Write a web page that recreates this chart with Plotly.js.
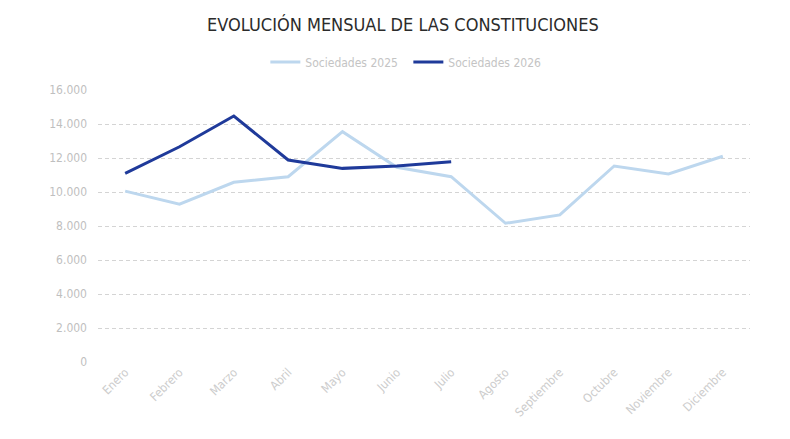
<!DOCTYPE html>
<html>
<head>
<meta charset="utf-8">
<script src="https://cdn.plot.ly/plotly-3.0.1.min.js"></script>
<style>html,body{margin:0;padding:0;background:#fff;}#chart{width:790px;height:439px;}</style>
</head>
<body>
<div id="chart"></div>
<script>
const months = ["Enero","Febrero","Marzo","Abril","Mayo","Junio","Julio","Agosto","Septiembre","Octubre","Noviembre","Diciembre"];
const soc2025 = [10050, 9280, 10570, 10900, 13550, 11450, 10900, 8160, 8650, 11530, 11060, 12100];
const soc2026 = [11100, 12660, 14470, 11880, 11390, 11530, 11780];
const yTicks = [0, 2000, 4000, 6000, 8000, 10000, 12000, 14000, 16000];

const traces = [
  {x: months, y: soc2025, name: "Sociedades 2025", type: "scatter", mode: "lines",
   line: {color: "#bdd7ee", width: 3}},
  {x: months.slice(0, soc2026.length), y: soc2026, name: "Sociedades 2026", type: "scatter", mode: "lines",
   line: {color: "#1f3a9a", width: 3}}
];

const layout = {
  width: 790, height: 439,
  margin: {l: 98, r: 40, t: 90, b: 77},
  paper_bgcolor: "#fff", plot_bgcolor: "#fff",
  separators: ",.",
  font: {family: "DejaVu Sans Condensed, Liberation Sans Narrow, sans-serif", color: "#bfbfbf", size: 12},
  title: {text: "EVOLUCIÓN MENSUAL DE LAS CONSTITUCIONES", x: 0.51, xanchor: "center", y: 0.943, yanchor: "middle",
    font: {family: "DejaVu Sans Condensed, sans-serif", size: 18, color: "#2b2b2b"}},
  showlegend: true,
  legend: {orientation: "h", x: 0.476, xanchor: "center", y: 1.103, yanchor: "middle",
    font: {size: 12, color: "#c4c4c4"}, itemwidth: 30, entrywidth: 98, entrywidthmode: "pixels"},
  xaxis: {type: "category", range: [-0.5, 11.5], tickangle: -45, showgrid: false, zeroline: false,
    showline: false, ticks: "", tickfont: {size: 12, color: "#cccccc"}},
  yaxis: {range: [0, 16000], tickvals: yTicks, tickformat: ",d", showgrid: true,
    gridcolor: "#d4d4d4", griddash: "4px,3px", gridwidth: 1, zeroline: false, showline: false, ticks: "",
    ticklabelstandoff: 10, tickfont: {size: 12, color: "#bfbfbf"}}
};

Plotly.newPlot("chart", traces, layout, {displayModeBar: false, staticPlot: true});
</script>
</body>
</html>
